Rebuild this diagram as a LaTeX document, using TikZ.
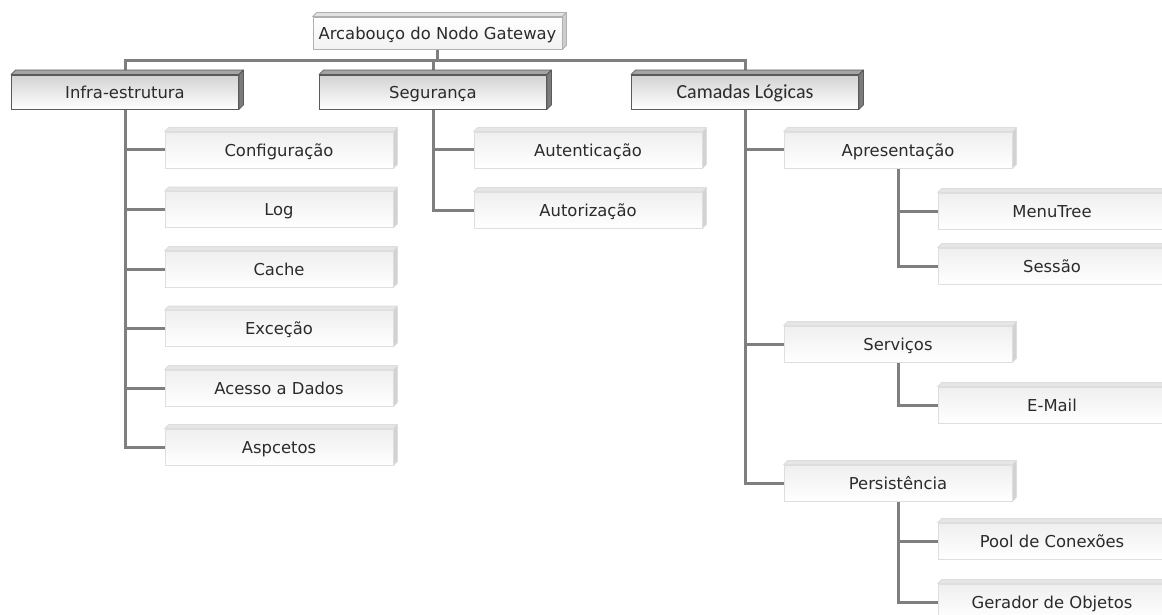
\documentclass[tikz,border=0pt]{standalone}
\usepackage{fontspec}
\setmainfont{DejaVu Sans}
\newfontfamily\calibrifont{Carlito}
\usetikzlibrary{backgrounds}

\definecolor{linegray}{HTML}{7F7F7F}
\definecolor{txt}{HTML}{2B2B2B}
% top-level box
\definecolor{rootborder}{HTML}{B0B0B0}
\definecolor{roottop}{HTML}{E2E2E2}
\definecolor{rootside}{HTML}{CDCDCD}
% first level boxes
\definecolor{catborder}{HTML}{5A5A5A}
\definecolor{catfilltop}{HTML}{D2D2D2}
\definecolor{cattop}{HTML}{A4A4A4}
\definecolor{catside}{HTML}{7C7C7C}
% leaf boxes
\definecolor{leafborder}{HTML}{DEDEDE}
\definecolor{leaffilltop}{HTML}{EFEFEF}
\definecolor{leaftop}{HTML}{E6E6E6}
\definecolor{leafside}{HTML}{D2D2D2}

% raised edge on top and right of a box: name, depth, top colour, side colour, outline
\newcommand\raisededge[5]{%
  \filldraw[fill=#3,draw=#5,line width=0.8pt,line join=round]
    (#1.north west) -- ++(#2,-#2) -- ([shift={(#2,-#2)}]#1.north east) -- (#1.north east) -- cycle;
  \filldraw[fill=#4,draw=#5,line width=0.8pt,line join=round]
    (#1.north east) -- ++(#2,-#2) -- ([shift={(#2,-#2)}]#1.south east) -- (#1.south east) -- cycle;
}

\tikzset{
  basebox/.style={rectangle, inner sep=0pt, text=txt, align=center,
    font=\fontsize{16.4}{18}\selectfont, text height=12.5pt, text depth=0pt},
  rootbox/.style={basebox, minimum width=249pt, minimum height=32pt,
    draw=rootborder, line width=0.8pt, top color=white, bottom color=white!95!black},
  catbox/.style={basebox, minimum width=227pt, minimum height=34pt,
    draw=catborder, line width=0.9pt, top color=catfilltop, bottom color=white},
  leafbox/.style={basebox, minimum width=228pt, minimum height=36pt,
    draw=leafborder, line width=0.8pt, top color=leaffilltop, bottom color=white},
  conn/.style={draw=linegray, line width=3pt}
}

\begin{document}
\begin{tikzpicture}[x=1pt,y=-1pt]
\useasboundingbox (0,0) rectangle (1162,615);
\clip (0,0) rectangle (1162,615);

% root and first level
\node[rootbox] (root) at (437.5,33) {Arcabouço do Nodo Gateway};
\node[catbox] (infra) at (125,92) {Infra-estrutura};
\node[catbox] (seg) at (433,92) {Segurança};
\node[catbox, font=\calibrifont\fontsize{20}{22}\selectfont] (cam) at (745,92) {Camadas Lógicas};
\coordinate (bar) at (437.5,61);

% infrastructure
\node[leafbox] (cfg) at (279,150) {Configuração};
\node[leafbox] (log) at (279,209.5) {Log};
\node[leafbox] (cache) at (279,269) {Cache};
\node[leafbox] (exc) at (279,328.5) {Exceção};
\node[leafbox] (dados) at (279,388) {Acesso a Dados};
\node[leafbox] (asp) at (279,447) {Aspcetos};

% security
\node[leafbox] (auth) at (588,150) {Autenticação};
\node[leafbox] (authz) at (588,210) {Autorização};

% logical layers
\node[leafbox] (apr) at (898,150) {Apresentação};
\node[leafbox] (menu) at (1052,211) {MenuTree};
\node[leafbox] (sess) at (1052,266) {Sessão};
\node[leafbox] (serv) at (898,344) {Serviços};
\node[leafbox] (mail) at (1052,405) {E-Mail};
\node[leafbox] (pers) at (898,483) {Persistência};
\node[leafbox] (pool) at (1052,541) {Pool de Conexões};
\node[leafbox] (ger) at (1052,602) {Gerador de Objetos};

% raised edges
\raisededge{root}{4}{roottop}{rootside}{rootborder}
\foreach \n in {infra,seg,cam}{\raisededge{\n}{4.5}{cattop}{catside}{catborder}}
\foreach \n in {cfg,log,cache,exc,dados,asp,auth,authz,apr,menu,sess,serv,mail,pers,pool,ger}
  {\raisededge{\n}{4}{leaftop}{leafside}{leafborder}}

% connectors
\begin{scope}[on background layer]
  \draw[conn] (root.south) -- (root.south |- bar);
  \draw[conn] (infra.north) -- (infra.north |- bar) -- (cam.north |- bar) -- (cam.north);
  \draw[conn] (seg.north) -- (seg.north |- bar);
  \foreach \c in {cfg,log,cache,exc,dados,asp} \draw[conn] (infra.south) |- (\c.west);
  \foreach \c in {auth,authz} \draw[conn] (seg.south) |- (\c.west);
  \foreach \c in {apr,serv,pers} \draw[conn] (cam.south) |- (\c.west);
  \foreach \c in {menu,sess} \draw[conn] (apr.south) |- (\c.west);
  \draw[conn] (serv.south) |- (mail.west);
  \foreach \c in {pool,ger} \draw[conn] (pers.south) |- (\c.west);
\end{scope}
\end{tikzpicture}
\end{document}
